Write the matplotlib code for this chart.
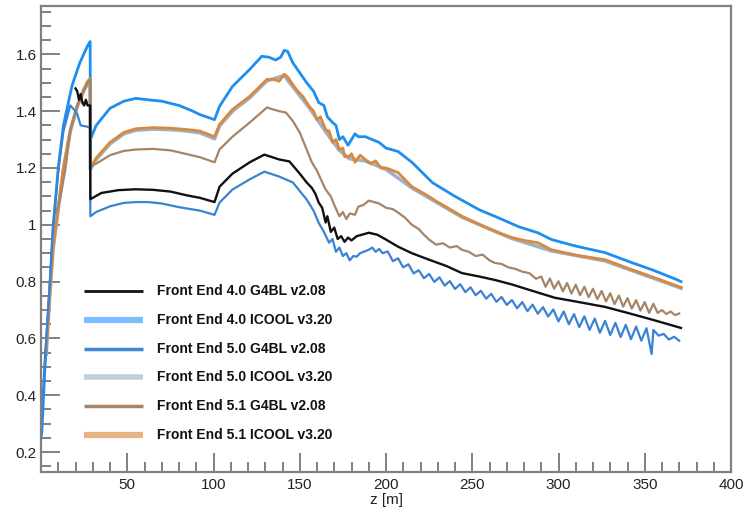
import matplotlib
matplotlib.use("Agg")
import matplotlib.pyplot as plt
from matplotlib.ticker import MultipleLocator, FormatStrFormatter

plt.rcParams['font.family'] = ['Liberation Sans', 'DejaVu Sans']

# Front End 4.0, G4BL v2.08
z_fe40_g4 = [20, 21, 22, 23, 24, 25, 26, 27, 28.5, 28.6, 35, 45, 55, 65, 75, 85, 92, 100.6, 103.5, 111,
             121, 129.5, 134, 138, 144, 150, 154, 157, 159, 161, 163, 165, 166, 168, 170, 172, 174, 176,
             178, 180, 183, 186, 190, 195, 200, 207, 215, 225, 235, 244, 254, 263, 273, 283, 298, 310,
             327, 340, 355, 371]
y_fe40_g4 = [1.48, 1.47, 1.44, 1.46, 1.43, 1.42, 1.44, 1.42, 1.42, 1.09, 1.112, 1.122, 1.125, 1.123, 1.117,
             1.103, 1.095, 1.08, 1.134, 1.18, 1.22, 1.247, 1.238, 1.23, 1.223, 1.18, 1.149, 1.13, 1.11,
             1.078, 1.06, 1.008, 1.03, 0.975, 0.99, 0.95, 0.96, 0.94, 0.955, 0.945, 0.96, 0.965, 0.972,
             0.965, 0.948, 0.923, 0.90, 0.877, 0.855, 0.83, 0.818, 0.806, 0.79, 0.771, 0.743, 0.73, 0.711,
             0.69, 0.665, 0.637]

# Front End 4.0, ICOOL v3.20
z_fe40_ic = [0, 0.5, 2.3, 5, 7, 10, 13, 18, 22.5, 27, 28.5, 28.6, 32, 40, 48, 55, 62, 70, 80, 88, 92,
             100.6, 103.5, 111, 121, 128, 132, 136, 139, 141, 143, 146, 150, 154, 158, 161, 164, 166, 169,
             171, 173, 175, 178, 180, 182, 184, 188, 192, 196, 200, 207, 215, 227, 240, 254, 265, 277, 288,
             296, 310, 327, 342, 355, 369, 371]
y_fe40_ic = [0.25, 0.27, 0.50, 0.77, 0.99, 1.20, 1.35, 1.49, 1.57, 1.63, 1.645, 1.30, 1.35, 1.41, 1.435,
             1.445, 1.44, 1.435, 1.42, 1.40, 1.388, 1.37, 1.417, 1.487, 1.547, 1.593, 1.59, 1.58, 1.59,
             1.614, 1.61, 1.57, 1.535, 1.50, 1.47, 1.43, 1.42, 1.38, 1.36, 1.35, 1.30, 1.31, 1.28, 1.30,
             1.32, 1.31, 1.31, 1.30, 1.29, 1.27, 1.258, 1.22, 1.148, 1.10, 1.053, 1.025, 0.993, 0.972,
             0.948, 0.925, 0.902, 0.868, 0.84, 0.806, 0.80]

# Front End 5.0, G4BL v2.08
z_fe50_g4 = [0.3, 2, 5, 7, 10, 13, 17, 20, 21, 23, 27, 28.5, 28.6, 32, 40, 48, 55, 62, 70, 80, 92, 100.6,
             103.5, 111, 121, 129.5, 138, 146, 154, 158, 161, 164, 167, 169, 171, 173, 175, 177, 179, 181,
             183, 185, 187, 190, 192, 194, 196, 198,
             201, 204, 207, 210, 213, 216, 219, 222, 225, 228, 231, 234, 237, 240, 243, 246, 249, 252, 255,
             258, 261, 264, 267, 270, 273, 276, 279, 282, 285, 288, 291, 294, 297, 300, 303, 306, 309, 312,
             315, 318, 321, 324, 327, 330, 333, 336, 339, 342, 345, 348, 351, 354, 355, 358, 361, 364, 367,
             370]
y_fe50_g4 = [0.30, 0.50, 0.78, 0.99, 1.19, 1.33, 1.42, 1.40, 1.39, 1.35, 1.345, 1.34, 1.03, 1.045, 1.065,
             1.077, 1.08, 1.08, 1.075, 1.062, 1.05, 1.035, 1.078, 1.124, 1.16, 1.187, 1.17, 1.149, 1.089,
             1.05, 1.007, 0.975, 0.937, 0.95, 0.905, 0.92, 0.89, 0.90, 0.875, 0.89, 0.888, 0.90, 0.905,
             0.912, 0.92, 0.905, 0.915, 0.90,
             0.906, 0.872, 0.882, 0.850, 0.861, 0.829, 0.840, 0.812, 0.827, 0.799, 0.815, 0.786, 0.802,
             0.774, 0.791, 0.763, 0.780, 0.752, 0.768, 0.740, 0.757, 0.729, 0.746, 0.718, 0.735, 0.706,
             0.728, 0.696, 0.719, 0.687, 0.710, 0.677, 0.702, 0.660, 0.695, 0.650, 0.686, 0.640, 0.678,
             0.630, 0.670, 0.620, 0.662, 0.612, 0.655, 0.605, 0.648, 0.597, 0.642, 0.592, 0.636, 0.545,
             0.63, 0.610, 0.616, 0.596, 0.606, 0.592]

# Front End 5.0, ICOOL v3.20 (mostly hidden under the 5.1 ICOOL curve)
z_fe50_ic = [3, 5, 7, 10, 13, 17, 21, 25, 28.5, 28.6, 32, 40, 48, 55, 65, 75, 85, 92, 100.6, 103.5, 111,
             121, 131, 141, 148, 155.5, 165, 173, 178.6, 188, 200, 215, 244, 273, 296, 327, 355, 371]
y_fe50_ic = [0.545, 0.745, 0.915, 1.055, 1.195, 1.33, 1.415, 1.475, 1.51, 1.195, 1.23, 1.285, 1.32, 1.333,
             1.337, 1.335, 1.33, 1.324, 1.303, 1.348, 1.40, 1.447, 1.507, 1.525, 1.47, 1.412, 1.328, 1.262,
             1.233, 1.225, 1.195, 1.13, 1.027, 0.952, 0.908, 0.873, 0.812, 0.777]

# Front End 5.1, G4BL v2.08
z_fe51_g4 = [9, 11, 14, 17, 21, 27, 28.5, 28.6, 32, 40, 48, 55, 65, 75, 85, 92, 100.6, 103.5, 111, 121,
             131, 135, 138, 142, 146, 150, 153, 157, 160, 163, 165, 168, 170, 173, 175, 177, 179, 182, 184,
             187, 190, 193, 196, 200, 204, 207, 211, 215, 219, 222, 225, 229, 233, 237, 241, 244, 248, 252,
             256, 260, 263, 267, 271, 275, 279, 283, 287,
             290, 292.5, 295, 297.5, 300, 302.5, 305, 307.5, 310, 312.5, 315, 317.5, 320, 322.5, 325, 327.5,
             330, 332.5, 335, 337.5, 340, 342.5, 345, 347.5, 350, 352.5, 355, 357.5, 360, 362.5, 365, 367.5,
             370]
y_fe51_g4 = [1.05, 1.09, 1.19, 1.33, 1.42, 1.50, 1.51, 1.205, 1.215, 1.245, 1.26, 1.265, 1.267, 1.262,
             1.248, 1.238, 1.22, 1.265, 1.31, 1.36, 1.413, 1.405, 1.40, 1.395, 1.365, 1.325, 1.28, 1.22,
             1.19, 1.15, 1.124, 1.10, 1.07, 1.03, 1.045, 1.02, 1.04, 1.035, 1.064, 1.07, 1.085, 1.08, 1.075,
             1.06, 1.055, 1.043, 1.025, 1.0, 0.985, 0.965, 0.948, 0.93, 0.935, 0.92, 0.925, 0.912, 0.905,
             0.89, 0.895, 0.875, 0.866, 0.862, 0.85, 0.845, 0.835, 0.83, 0.81,
             0.818, 0.782, 0.811, 0.775, 0.801, 0.766, 0.795, 0.758, 0.789, 0.752, 0.782, 0.745, 0.775,
             0.738, 0.767, 0.730, 0.759, 0.721, 0.751, 0.712, 0.742, 0.705, 0.735, 0.698, 0.728, 0.690,
             0.722, 0.690, 0.700, 0.686, 0.695, 0.682, 0.688]

# Front End 5.1, ICOOL v3.20
z_fe51_ic = [3, 5, 7, 10, 13, 17, 21, 25, 27, 28.5, 28.6, 32, 40, 48, 55, 65, 75, 85, 92, 100.6, 103.5,
             111, 121, 131, 136, 138, 141, 143, 148, 152, 155.5, 158, 160, 162, 165, 167, 169, 171, 173,
             175, 176, 178.6, 180, 182, 185, 188, 191, 194, 197, 200, 207, 215, 222, 230, 237, 244, 251,
             258, 265, 273, 280, 288, 296, 310, 327, 342, 355, 371]
y_fe51_ic = [0.55, 0.75, 0.92, 1.06, 1.20, 1.335, 1.42, 1.48, 1.505, 1.515, 1.20, 1.235, 1.29, 1.325,
             1.338, 1.342, 1.34, 1.335, 1.33, 1.31, 1.353, 1.406, 1.452, 1.512, 1.51, 1.505, 1.53, 1.52,
             1.476, 1.45, 1.417, 1.40, 1.37, 1.38, 1.335, 1.33, 1.29, 1.30, 1.265, 1.27, 1.24, 1.24, 1.25,
             1.22, 1.245, 1.23, 1.215, 1.225, 1.20, 1.20, 1.184, 1.134, 1.11, 1.08, 1.055, 1.03, 1.01,
             0.99, 0.972, 0.955, 0.945, 0.937, 0.912, 0.893, 0.877, 0.843, 0.815, 0.78]

labels = ["Front End 4.0 G4BL v2.08", "Front End 4.0 ICOOL v3.20", "Front End 5.0 G4BL v2.08",
          "Front End 5.0 ICOOL v3.20", "Front End 5.1 G4BL v2.08", "Front End 5.1 ICOOL v3.20"]
x_ticks = [50, 100, 150, 200, 250, 300, 350, 400]

fig = plt.figure(figsize=(7.43, 5.15), dpi=100)
ax = fig.add_axes([41 / 743, 1 - 472 / 515, 690 / 743, 466 / 515])

# curves (drawing order matters: ICOOL 5.0 sits under the 5.1 one)
ax.plot(z_fe50_ic, y_fe50_ic, color='#9db2c9', lw=2.6)
ax.plot(z_fe40_ic, y_fe40_ic, color='#1f8ef1', lw=2.0)
ax.plot(z_fe51_ic, y_fe51_ic, color='#d8893e', lw=2.0)
ax.plot(z_fe51_g4, y_fe51_g4, color='#a68466', lw=1.6)
ax.plot(z_fe50_g4, y_fe50_g4, color='#3a83d4', lw=1.6)
ax.plot(z_fe40_g4, y_fe40_g4, color='#111111', lw=1.7)

# legend drawn by hand, ROOT style (no frame)
leg_colors = ['#111111', '#7dbdff', '#3d87d6', '#c3cdd8', '#a48568', '#e6b482']
leg_widths = [2.0, 4.5, 2.5, 4.0, 2.5, 4.5]
leg_y = [0.388, 0.326, 0.264, 0.204, 0.142, 0.079]
for lab, c, w, yy in zip(labels, leg_colors, leg_widths, leg_y):
    ax.plot([0.062, 0.148], [yy, yy], color=c, lw=w, transform=ax.transAxes, solid_capstyle='butt')
    ax.text(0.168, yy, lab, transform=ax.transAxes, fontsize=10, fontweight='bold',
            va='center', ha='left', color='#111111')

ax.set_xlim(0, 400)
ax.set_ylim(0.13, 1.77)
ax.set_xticks(x_ticks)
ax.xaxis.set_minor_locator(MultipleLocator(10))
ax.yaxis.set_major_locator(MultipleLocator(0.2))
ax.yaxis.set_minor_locator(MultipleLocator(0.05))
ax.yaxis.set_major_formatter(FormatStrFormatter('%g'))

for s in ax.spines.values():
    s.set_color('#808080')
    s.set_linewidth(1.6)
ax.tick_params(which='both', direction='in', top=False, right=False, color='#808080', width=1.4,
               labelsize=11, labelcolor='#222222')
ax.tick_params(which='major', length=14)
ax.tick_params(which='minor', length=7.5)
ax.tick_params(axis='y', pad=3)
ax.tick_params(axis='x', pad=4)
ax.set_xlabel('z [m]', fontsize=11, color='#222222', labelpad=1)

fig.savefig('out.png', dpi=100)
